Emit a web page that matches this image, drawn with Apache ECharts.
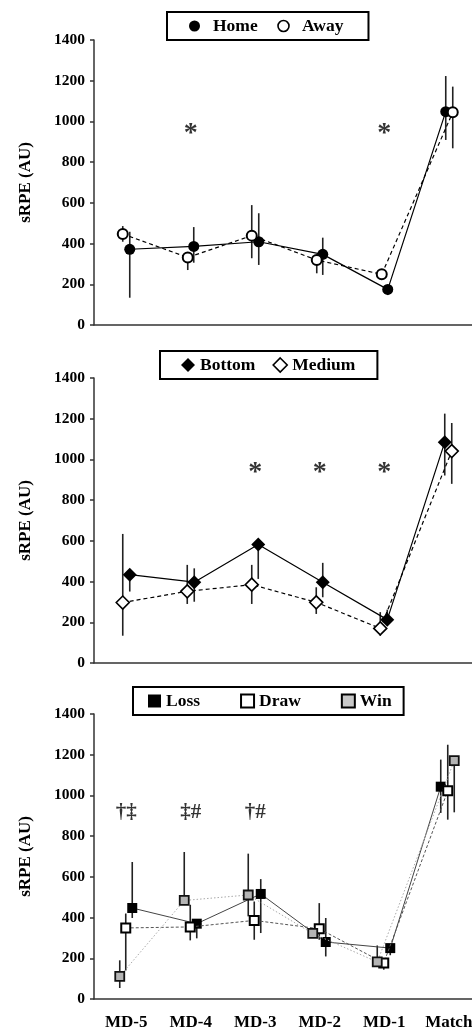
<!DOCTYPE html>
<html><head><meta charset="utf-8">
<script src="https://cdn.jsdelivr.net/npm/echarts@6/dist/echarts.min.js"></script>
<style>html,body{margin:0;padding:0;background:#fff}#c{width:472px;height:1032px}</style>
</head><body><div id="c"></div>
<script>
// ---------- DATA ----------
const categories = ['MD-5', 'MD-4', 'MD-3', 'MD-2', 'MD-1', 'Match'];

// Panel 1: venue
const homeMean = [372, 386, 409, 347, 175, 1048];
const homeLow  = [134, 306, 295, 246, 147, 909];
const homeHigh = [458, 481, 549, 429, 175, 1223];
const awayMean = [447, 332, 439, 319, 249, 1045];
const awayLow  = [409, 270, 328, 254, 221, 868];
const awayHigh = [486, 332, 589, 319, 249, 1171];
const annot1   = ['', '*', '', '', '*', ''];

// Panel 2: ranking
const bottomMean = [434, 397, 582, 397, 213, 1085];
const bottomLow  = [351, 301, 413, 323, 195, 921];
const bottomHigh = [434, 465, 582, 492, 262, 1225];
const mediumMean = [297, 352, 385, 298, 170, 1041];
const mediumLow  = [134, 290, 290, 241, 134, 880];
const mediumHigh = [634, 482, 482, 372, 250, 1179];
const annot2     = ['', '', '*', '*', '*', ''];

// Panel 3: result
const lossMean = [447, 370, 516, 280, 250, 1043];
const lossLow  = [398, 298, 324, 209, 215, 914];
const lossHigh = [673, 370, 589, 398, 250, 1176];
const drawMean = [349, 354, 386, 345, 177, 1023];
const drawLow  = [140, 288, 291, 291, 144, 881];
const drawHigh = [420, 463, 479, 471, 177, 1249];
const winMean  = [111, 484, 511, 322, 182, 1171];
const winLow   = [54, 484, 406, 322, 182, 917];
const winHigh  = [190, 722, 714, 322, 263, 1171];
const annot3   = ['†‡', '‡#', '†#', '', '', ''];

const yMin = 0, yMax = 1400, yStep = 200;

// ---------- LAYOUT / STYLE ----------
const FONT = 'Liberation Serif';
const GRID_TOPS = [40, 378, 714];
const GRID_H = 285;
const GRID_W = 387;                   // plot runs past the right edge of the page
const CAT_PX = GRID_W / categories.length;
const ANNOT_Y = [940, 935, 915];      // vertical placement of significance marks
const ANNOT_SIZE = [28, 28, 21];
// horizontal dodge of each series (pixels)
const DODGE = {
  Home:   [3.5, 3, 3.5, 3, 3.5, -3],
  Away:   [-3.5, -3, -3.5, -3, -2.5, 4],
  Bottom: [3.5, 3.5, 3, 3, 3, -4],
  Medium: [-3.5, -3.5, -3.5, -3.5, -4, 3],
  Loss:   [6, 6, 5.5, 6, 6, -8],
  Draw:   [-0.5, -0.5, -1, -0.5, -0.5, -1],
  Win:    [-6.5, -6.5, -7, -7, -7, 5.5]
};

const txt = (size) => ({ fontFamily: FONT, fontWeight: 'bold', fontSize: size, color: '#000' });
const AX = '#333';

const grids = GRID_TOPS.map(t => ({
  left: 94, width: GRID_W, top: t, height: GRID_H,
  containLabel: false, outerBoundsMode: 'none'
}));
const xAxes = [];
const yAxes = [];
GRID_TOPS.forEach((t, i) => {
  xAxes.push({
    type: 'category', gridIndex: i, data: categories, boundaryGap: true,
    axisLine: { onZero: false, lineStyle: { color: AX, width: 1.5 } },
    axisTick: { alignWithLabel: true, length: 7, lineStyle: { color: AX, width: 1.5 } },
    axisLabel: Object.assign({ show: i === 2, interval: 0, margin: 15, hideOverlap: false }, txt(17)),
    splitLine: { show: false }
  });
  xAxes.push({ type: 'value', gridIndex: i, min: -0.5, max: 5.5, show: false });
  yAxes.push({
    type: 'value', gridIndex: i, min: yMin, max: yMax, interval: yStep,
    name: 'sRPE (AU)', nameLocation: 'middle', nameGap: 60, nameRotate: 90,
    nameTextStyle: txt(17),
    axisLine: { show: true, onZero: false, lineStyle: { color: AX, width: 1.5 } },
    axisTick: { show: true, length: 4, lineStyle: { color: AX, width: 1.5 } },
    axisLabel: Object.assign({ margin: 9, formatter: v => String(v) }, txt(15.5)),
    splitLine: { show: false }
  });
});

function xy(name, mean) {
  return mean.map((v, k) => [k + DODGE[name][k] / CAT_PX, v]);
}
function lineSeries(name, grid, mean, symbol, size, itemStyle, lineStyle, z) {
  return {
    type: 'line', name, xAxisIndex: 2 * grid + 1, yAxisIndex: grid,
    data: xy(name, mean), symbol, symbolSize: size, itemStyle, lineStyle,
    z: z, silent: true, animation: false, emphasis: { disabled: true }
  };
}
function errSeries(name, grid, mean, low, high, color) {
  return {
    type: 'custom', xAxisIndex: 2 * grid + 1, yAxisIndex: grid, z: 2, silent: true,
    data: mean.map((v, k) => [k + DODGE[name][k] / CAT_PX, low[k], high[k]]),
    encode: { x: 0, y: [1, 2] },
    renderItem: (params, api) => {
      const x = api.value(0);
      const p1 = api.coord([x, api.value(1)]);
      const p2 = api.coord([x, api.value(2)]);
      return { type: 'line', shape: { x1: p1[0], y1: p1[1], x2: p2[0], y2: p2[1] },
               style: { stroke: color, lineWidth: 1.6 } };
    },
    animation: false
  };
}
function annotSeries(grid, labels) {
  return {
    type: 'scatter', xAxisIndex: 2 * grid + 1, yAxisIndex: grid, silent: true,
    symbolSize: 1, itemStyle: { color: 'rgba(0,0,0,0)' },
    data: labels.map((t, k) => [k, ANNOT_Y[grid], t]).filter(d => d[2]),
    label: Object.assign({ show: true, position: 'inside', formatter: p => p.value[2] }, txt(ANNOT_SIZE[grid])),
    animation: false, z: 5
  };
}

const series = [
  errSeries('Home', 0, homeMean, homeLow, homeHigh, '#222'),
  errSeries('Away', 0, awayMean, awayLow, awayHigh, '#222'),
  lineSeries('Home', 0, homeMean, 'circle', 11, { color: '#000' }, { color: '#000', width: 1.2 }, 3),
  lineSeries('Away', 0, awayMean, 'circle', 10, { color: '#fff', borderColor: '#000', borderWidth: 2 },
             { color: '#000', width: 1.2, type: [4, 3] }, 4),
  annotSeries(0, annot1),

  errSeries('Bottom', 1, bottomMean, bottomLow, bottomHigh, '#222'),
  errSeries('Medium', 1, mediumMean, mediumLow, mediumHigh, '#222'),
  lineSeries('Bottom', 1, bottomMean, 'diamond', 14, { color: '#000' }, { color: '#000', width: 1.2 }, 3),
  lineSeries('Medium', 1, mediumMean, 'diamond', 13, { color: '#fff', borderColor: '#000', borderWidth: 1.6 },
             { color: '#000', width: 1.2, type: [4, 3] }, 4),
  annotSeries(1, annot2),

  errSeries('Loss', 2, lossMean, lossLow, lossHigh, '#222'),
  errSeries('Draw', 2, drawMean, drawLow, drawHigh, '#222'),
  errSeries('Win', 2, winMean, winLow, winHigh, '#222'),
  lineSeries('Loss', 2, lossMean, 'rect', 10, { color: '#000' }, { color: '#444', width: 1 }, 3),
  lineSeries('Draw', 2, drawMean, 'rect', 9, { color: '#fff', borderColor: '#000', borderWidth: 2 },
             { color: '#555', width: 1, type: [3, 2] }, 4),
  lineSeries('Win', 2, winMean, 'rect', 9, { color: '#b4b4b4', borderColor: '#111', borderWidth: 1.8 },
             { color: '#aaa', width: 1, type: [1.5, 2] }, 4),
  annotSeries(2, annot3)
];

const legendBase = {
  orient: 'horizontal', selectedMode: false, borderColor: '#000', borderWidth: 2,
  textStyle: txt(17.5), inactiveColor: '#000'
};
const legends = [
  Object.assign({}, legendBase, {
    left: 167, top: 12, padding: [5, 25, 5, 22], itemWidth: 27, itemHeight: 11, itemGap: 19.5,
    data: [
      { name: 'Home', icon: 'circle', itemStyle: { color: '#000', borderWidth: 0 } },
      { name: 'Away', icon: 'circle', itemStyle: { color: '#fff', borderColor: '#000', borderWidth: 1.6 } }
    ]
  }),
  Object.assign({}, legendBase, {
    left: 160, top: 351, padding: [5, 22, 5, 21], itemWidth: 14, itemHeight: 14, itemGap: 17,
    data: [
      { name: 'Bottom', icon: 'diamond', itemStyle: { color: '#000', borderWidth: 0 } },
      { name: 'Medium', icon: 'diamond', itemStyle: { color: '#fff', borderColor: '#000', borderWidth: 1.6 } }
    ]
  }),
  Object.assign({}, legendBase, {
    left: 133, top: 687, padding: [5, 12, 5, 15], itemWidth: 13, itemHeight: 13, itemGap: 40,
    data: [
      { name: 'Loss', icon: 'rect', itemStyle: { color: '#000', borderWidth: 0 } },
      { name: 'Draw', icon: 'rect', itemStyle: { color: '#fff', borderColor: '#000', borderWidth: 2 } },
      { name: 'Win', icon: 'rect', itemStyle: { color: '#c8c8c8', borderColor: '#000', borderWidth: 2 } }
    ]
  })
];

const chart = echarts.init(document.getElementById('c'), null, { renderer: 'canvas' });
chart.setOption({
  animation: false,
  backgroundColor: '#fff',
  grid: grids,
  xAxis: xAxes,
  yAxis: yAxes,
  legend: legends,
  series: series
});
</script>
</body></html>
